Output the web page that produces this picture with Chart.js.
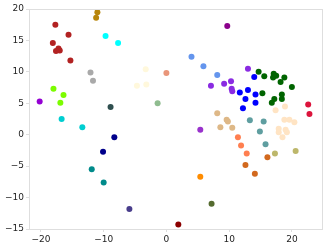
<!DOCTYPE html>
<html>
<head>
<meta charset="utf-8">
<script src="https://cdn.jsdelivr.net/npm/chart.js@4/dist/chart.umd.min.js"></script>
<style>
html,body{margin:0;padding:0;background:#fff;}
#wrap{width:329px;height:248px;}
</style>
</head>
<body>
<div id="wrap"><canvas id="c" width="329" height="248"></canvas></div>
<script>
const seriesColors = ['#9400D3','#B22222','#B8860B','#00FFFF','#A9A9A9','#7CFC00','#00CED1','#2F4F4F','#FFF8DC','#8FBC8F','#E9967A','#8B008B','#6495ED','#8A2BE2','#0000FF','#006400','#DC143C','#FFE4C4','#DEB887','#5F9EA0','#9932CC','#FF7F50','#D2691E','#BDB76B','#FF8C00','#556B2F','#8B0000','#00008B','#008B8B','#483D8B'];
const seriesX = [
  [-20.2],
  [-17.7,-15.6,-18.1,-17.2,-17.6,-17.0,-15.3],
  [-11.0,-11.2],
  [-9.7,-7.7],
  [-12.1,-11.7],
  [-18.0,-16.4,-16.9],
  [-16.7,-13.4],
  [-8.9],
  [-4.7,-3.3,-3.2],
  [-1.4],
  [0.0],
  [9.7],
  [4.0,5.9,8.1],
  [13.0,7.1,9.2,10.3,10.4,10.5],
  [14.0,11.7,13.0,14.2,12.6,14.2,12.2],
  [14.7,15.6,17.1,17.5,17.0,18.8,18.2,20.0,15.3,18.4,18.4,17.2,16.8],
  [22.6,22.8],
  [17.4,18.9,18.8,19.6,20.4,17.9,17.9,19.2,19.0,18.5],
  [8.1,9.6,9.8,8.6,10.5],
  [13.3,15.5,14.9,15.8],
  [5.4],
  [11.4,11.9,12.8],
  [12.6,14.1,16.1],
  [17.3,20.6],
  [5.4],
  [7.2],
  [1.9],
  [-8.3,-10.1],
  [-11.9,-10.0],
  [-5.9]
];
const seriesY = [
  [5.3],
  [17.5,15.9,14.6,13.7,13.3,13.4,11.8],
  [19.5,18.6],
  [15.7,14.6],
  [9.9,8.6],
  [7.3,6.3,5.1],
  [2.5,1.2],
  [4.4],
  [7.8,10.4,8.0],
  [5.0],
  [9.8],
  [17.3],
  [12.4,10.9,9.5],
  [10.5,7.8,8.1,8.5,7.3,6.9],
  [9.2,6.7,7.1,6.4,5.7,5.1,4.2],
  [10.0,9.3,9.7,9.4,9.1,9.1,8.4,7.6,6.6,6.4,5.7,5.7,5.1],
  [4.8,3.3],
  [3.9,4.5,2.4,2.4,2.0,0.95,0.4,0.4,0.8,-0.4],
  [3.4,2.4,2.1,1.2,1.1],
  [2.3,2.1,0.5,-1.5],
  [0.8],
  [-0.4,-1.7,-3.0],
  [-4.8,-6.2,-3.6],
  [-3.0,-2.6],
  [-6.7],
  [-11.0],
  [-14.3],
  [-0.4,-2.7],
  [-5.5,-7.6],
  [-11.8]
];
const xTicks = [-20,-10,0,10,20];
const yTicks = [-15,-10,-5,0,5,10,15,20];

const datasets = seriesColors.map((col,i)=>({
  data: seriesX[i].map((x,j)=>({x:x,y:seriesY[i][j]})),
  backgroundColor: col,
  borderColor: col,
  borderWidth: 0,
  pointRadius: 3,
  pointHoverRadius: 3
}));

const fmt = v => (v<0 ? '\u2212'+Math.abs(v) : String(v));
const frameColor = '#dedede';

const framePlugin = {
  id:'frame',
  afterDraw(chart){
    const a = chart.chartArea, ctx = chart.ctx;
    ctx.save();
    ctx.strokeStyle = frameColor;
    ctx.lineWidth = 1;
    ctx.strokeRect(Math.round(a.left)+0.5, Math.round(a.top)+0.5, Math.round(a.right-a.left), Math.round(a.bottom-a.top));
    ctx.restore();
  }
};

new Chart(document.getElementById('c'), {
  type:'scatter',
  data:{datasets},
  plugins:[framePlugin],
  options:{
    responsive:false,
    animation:false,
    layout:{padding:{top:9,right:7,left:0,bottom:0}},
    plugins:{legend:{display:false},tooltip:{enabled:false}},
    scales:{
      x:{
        type:'linear', min:-21.9, max:24.8,
        afterBuildTicks: ax => { ax.ticks = xTicks.map(v=>({value:v})); },
        afterFit: ax => { ax.height = 19; },
        grid:{display:true, drawOnChartArea:false, drawTicks:true, tickLength:3, color:frameColor},
        border:{display:true, color:frameColor},
        ticks:{callback: v=>fmt(v), font:{family:'DejaVu Sans', size:9}, color:'#222', padding:2, maxRotation:0}
      },
      y:{
        type:'linear', min:-15, max:20,
        afterBuildTicks: ax => { ax.ticks = yTicks.map(v=>({value:v})); },
        afterFit: ax => { ax.width = 29; },
        grid:{display:true, drawOnChartArea:false, drawTicks:true, tickLength:3, color:frameColor},
        border:{display:true, color:frameColor},
        ticks:{callback: v=>fmt(v), font:{family:'DejaVu Sans', size:9}, color:'#222', padding:2}
      }
    }
  }
});
</script>
</body>
</html>
